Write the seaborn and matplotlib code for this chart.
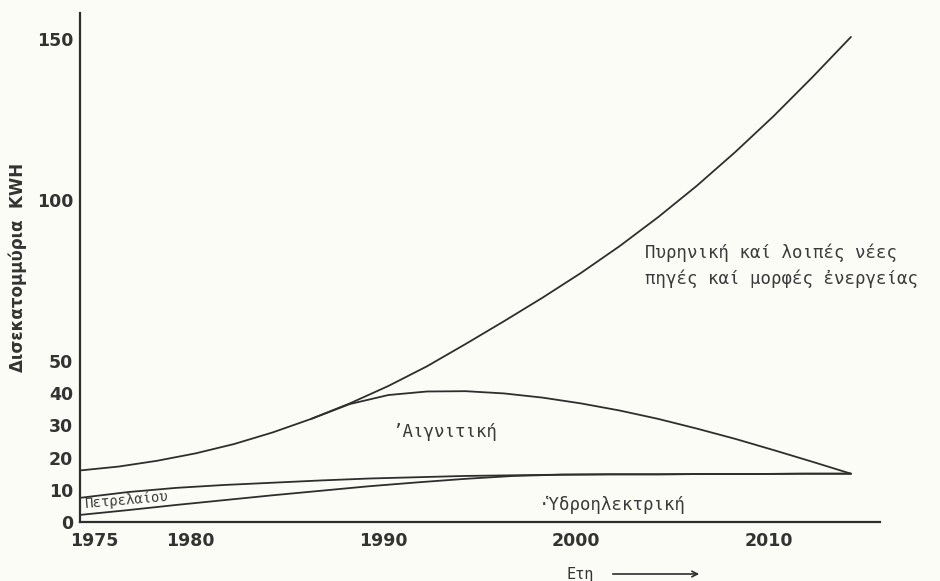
import numpy as np
import pandas as pd
import seaborn as sns
import matplotlib.pyplot as plt
import matplotlib.transforms as mtransforms

sns.set_style('white')
plt.rcParams['font.family'] = ['DejaVu Sans']

# values (billions of KWH)
total_years = [1975, 1977, 1979, 1981, 1983, 1985, 1987, 1989, 1991, 1993, 1995,
               1997, 1999, 2001, 2003, 2005, 2007, 2009, 2011, 2013, 2015]
total = [16.0, 17.2, 19.0, 21.3, 24.2, 27.8, 32.0, 36.8, 42.2, 48.3, 55.2,
         62.3, 69.6, 77.3, 85.6, 94.6, 104.3, 114.8, 126.0, 138.0, 150.5]
lignite_years = [1987, 1989, 1991, 1993, 1995, 1997, 1999, 2001, 2003,
                 2005, 2007, 2009, 2011, 2013, 2015]
lignite = [32.0, 36.6, 39.4, 40.5, 40.6, 39.9, 38.6, 36.8, 34.6,
           32.0, 29.0, 25.8, 22.3, 18.7, 15.0]
low_years = [1975, 1977.5, 1980, 1982.5, 1985, 1987.5, 1990, 1992.5, 1995,
             1997.5, 2000, 2002.5, 2005, 2007.5, 2010, 2012.5, 2015]
oil_top = [7.5, 9.3, 10.6, 11.5, 12.2, 12.9, 13.5, 13.9, 14.3,
           14.5, 14.7, 14.8, 14.8, 14.9, 14.9, 15.0, 15.0]
hydro = [2.2, 3.7, 5.3, 6.8, 8.3, 9.7, 11.1, 12.3, 13.4,
         14.3, 14.7, 14.8, 14.8, 14.9, 14.9, 15.0, 15.0]

y_labels = [0, 10, 20, 30, 40, 50, 100, 150]
x_labels = [1975, 1980, 1990, 2000, 2010]

paper = '#fcfcf6'
ink = '#2e2e2e'

fig = plt.figure(figsize=(9.4, 5.81), dpi=100, facecolor=paper)
ax = fig.add_axes([0.085, 0.1015, 0.851, 0.8765], facecolor=paper)

for xs, ys in [(total_years, total), (lignite_years, lignite),
               (low_years, oil_top), (low_years, hydro)]:
    sns.lineplot(x=xs, y=ys, ax=ax, color=ink, linewidth=1.3)

ax.set_xlim(1975, 2016.5)
ax.set_ylim(0, 158)

for s in ['top', 'right']:
    ax.spines[s].set_visible(False)
for s in ['left', 'bottom']:
    ax.spines[s].set_color(ink)
    ax.spines[s].set_linewidth(1.6)

ax.set_yticks(y_labels)
ax.set_yticklabels([str(v) for v in y_labels], fontsize=12.5, fontweight='bold', color='#333333')
ax.set_yticks(np.arange(60, 150, 10), minor=True)
ax.tick_params(axis='y', which='both', direction='in', length=5, width=1.2, color=ink, pad=5)

ax.set_xticks(x_labels)
ax.set_xticklabels([str(v) for v in x_labels], fontsize=12.5, fontweight='bold', color='#333333')
ax.set_xticks(np.arange(1980, 2016, 5), minor=True)
ax.tick_params(axis='x', which='major', length=0, pad=7)
ax.tick_params(axis='x', which='minor', direction='in', length=5, width=1.2, color=ink)
shift = mtransforms.ScaledTranslation(-7 / 72, 0, fig.dpi_scale_trans)
for lab in ax.get_xticklabels():
    lab.set_horizontalalignment('left')
    lab.set_transform(lab.get_transform() + shift)

ax.set_ylabel('Δισεκατομμύρια  KWH', fontsize=12, fontweight='bold', color='#333333')
ax.yaxis.set_label_coords(-0.066, 0.5)

tkw = dict(fontsize=12.5, color='#3a3a3a', family='DejaVu Sans Mono')
ax.text(2004.3, 83.4, 'Πυρηνική καί λοιπές νέες', va='center', **tkw)
ax.text(2004.3, 75.6, 'πηγές καί μορφές ἐνεργείας', va='center', **tkw)
ax.text(1991.2, 27.8, '’Αιγνιτική', va='center', **tkw)
ax.text(1998.8, 5.3, '·Ὑδροηλεκτρική', va='center', **tkw)
ax.text(1975.2, 6.9, 'Πετρελαίου', va='center', rotation=5,
        fontsize=10, color='#3a3a3a', family='DejaVu Sans Mono')

fig.text(566 / 940, 1 - 575 / 581, 'Ετη', fontsize=11, color='#333333', va='center',
         family='DejaVu Sans Mono')
ax.annotate('', xy=(702 / 940, 1 - 574 / 581), xytext=(610 / 940, 1 - 574 / 581),
            xycoords='figure fraction', textcoords='figure fraction',
            arrowprops=dict(arrowstyle='->', color=ink, lw=1.2))

plt.savefig('out.png', dpi=100, facecolor=paper)
